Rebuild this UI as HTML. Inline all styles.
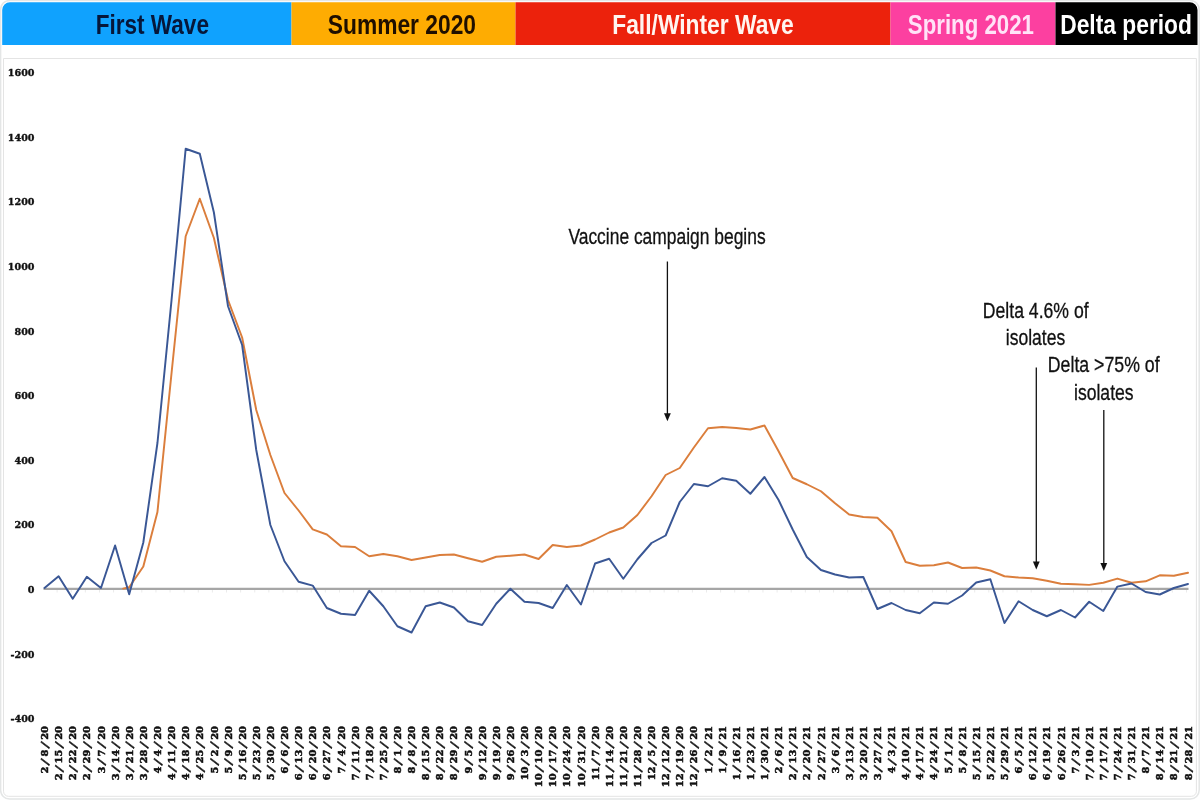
<!DOCTYPE html>
<html lang="en">
<head>
<meta charset="utf-8">
<title>Excess deaths by wave</title>
<style>
html,body{margin:0;padding:0;background:#fff;}
body{width:1200px;height:800px;overflow:hidden;position:relative;font-family:"Liberation Sans",sans-serif;}
svg{position:absolute;left:0;top:0;display:block;}
.bt{font-family:"Liberation Sans",sans-serif;font-weight:bold;font-size:28.5px;}
.an{font-family:"Liberation Sans",sans-serif;font-size:21.4px;fill:#111;stroke:#111;stroke-width:0.3px;}
.yl text{font-family:"DejaVu Serif","Liberation Serif",serif;font-weight:bold;font-size:9.6px;fill:#111;stroke:#111;stroke-width:0.35px;}
.xl text{font-family:"DejaVu Serif","Liberation Serif",serif;font-weight:bold;font-size:9.9px;fill:#111;stroke:#111;stroke-width:0.5px;}
.xl .sl{font-size:12px;}
</style>
</head>
<body>
<svg width="1200" height="800" viewBox="0 0 1200 800">
<!-- outer frame -->
<rect x="0.6" y="0.5" width="1198.6" height="798.6" rx="9" ry="9" fill="#fff" stroke="#e4e6e6" stroke-width="1.5"/>
<!-- banner -->
<clipPath id="bc"><path d="M2.2 45V10a7.8 7.8 0 0 1 7.8-7.8H1189.7a7.8 7.8 0 0 1 7.8 7.8V45Z"/></clipPath>
<g clip-path="url(#bc)">
<rect x="2" y="2" width="289.5" height="43" fill="#10a2fe"/>
<rect x="291.5" y="2" width="224" height="43" fill="#feac02"/>
<rect x="515.5" y="2" width="375" height="43" fill="#ec220c"/>
<rect x="890.5" y="2" width="165" height="43" fill="#fc40a0"/>
<rect x="1055.5" y="2" width="143" height="43" fill="#000"/>
</g>
<text class="bt" x="152.3" y="33.8" fill="#06173a" textLength="113.3" lengthAdjust="spacingAndGlyphs" text-anchor="middle">First Wave</text>
<text class="bt" x="401.9" y="33.8" fill="#1f0f00" textLength="148.3" lengthAdjust="spacingAndGlyphs" text-anchor="middle">Summer 2020</text>
<text class="bt" x="703.0" y="33.8" fill="#fff5f0" textLength="181.5" lengthAdjust="spacingAndGlyphs" text-anchor="middle">Fall/Winter Wave</text>
<text class="bt" x="970.9" y="33.8" fill="#ffe3f7" textLength="126.1" lengthAdjust="spacingAndGlyphs" text-anchor="middle">Spring 2021</text>
<text class="bt" x="1126.1" y="33.8" fill="#fff" textLength="131.8" lengthAdjust="spacingAndGlyphs" text-anchor="middle">Delta period</text>
<!-- chart frame -->
<path d="M3.5 58.5H1196.4V791.3a5 5 0 0 1 -5 5H8.5a5 5 0 0 1 -5 -5Z" fill="#fff" stroke="#e4e4e4" stroke-width="1"/>
<!-- axis -->
<path d="M57.12 590v2.5M71.23 590v2.5M85.35 590v2.5M99.47 590v2.5M113.59 590v2.5M127.70 590v2.5M141.82 590v2.5M155.94 590v2.5M170.05 590v2.5M184.17 590v2.5M198.29 590v2.5M212.40 590v2.5M226.52 590v2.5M240.64 590v2.5M254.75 590v2.5M268.87 590v2.5M282.99 590v2.5M297.11 590v2.5M311.22 590v2.5M325.34 590v2.5M339.46 590v2.5M353.57 590v2.5M367.69 590v2.5M381.81 590v2.5M395.93 590v2.5M410.04 590v2.5M424.16 590v2.5M438.28 590v2.5M452.39 590v2.5M466.51 590v2.5M480.63 590v2.5M494.74 590v2.5M508.86 590v2.5M522.98 590v2.5M537.10 590v2.5M551.21 590v2.5M565.33 590v2.5M579.45 590v2.5M593.56 590v2.5M607.68 590v2.5M621.80 590v2.5M635.91 590v2.5M650.03 590v2.5M664.15 590v2.5M678.26 590v2.5M692.38 590v2.5M706.50 590v2.5M720.62 590v2.5M734.73 590v2.5M748.85 590v2.5M762.97 590v2.5M777.08 590v2.5M791.20 590v2.5M805.32 590v2.5M819.44 590v2.5M833.55 590v2.5M847.67 590v2.5M861.79 590v2.5M875.90 590v2.5M890.02 590v2.5M904.14 590v2.5M918.25 590v2.5M932.37 590v2.5M946.49 590v2.5M960.61 590v2.5M974.72 590v2.5M988.84 590v2.5M1002.96 590v2.5M1017.07 590v2.5M1031.19 590v2.5M1045.31 590v2.5M1059.42 590v2.5M1073.54 590v2.5M1087.66 590v2.5M1101.78 590v2.5M1115.89 590v2.5M1130.01 590v2.5M1144.13 590v2.5M1158.24 590v2.5M1172.36 590v2.5M1186.48 590v2.5" stroke="#ebebeb" stroke-width="1" fill="none"/>
<path d="M43.5 588.9H1188.5" stroke="#a6a6a6" stroke-width="2.2" fill="none"/>
<g class="yl">
<text x="34.5" y="76.2" text-anchor="end">1600</text>
<text x="34.5" y="140.8" text-anchor="end">1400</text>
<text x="34.5" y="205.4" text-anchor="end">1200</text>
<text x="34.5" y="270.0" text-anchor="end">1000</text>
<text x="34.5" y="334.6" text-anchor="end">800</text>
<text x="34.5" y="399.2" text-anchor="end">600</text>
<text x="34.5" y="463.8" text-anchor="end">400</text>
<text x="34.5" y="528.4" text-anchor="end">200</text>
<text x="34.5" y="593.0" text-anchor="end">0</text>
<text x="34.5" y="657.6" text-anchor="end">-200</text>
<text x="34.5" y="722.2" text-anchor="end">-400</text>
</g>
<g class="xl">
<text transform="translate(48.10,726) rotate(-90)" text-anchor="end">2<tspan class="sl" dx="1.4" rotate="20">/</tspan><tspan dx="4.2" rotate="0">8</tspan><tspan class="sl" dx="1.4" rotate="20">/</tspan><tspan dx="4.2" rotate="0">20</tspan></text>
<text transform="translate(62.22,726) rotate(-90)" text-anchor="end">2<tspan class="sl" dx="1.4" rotate="20">/</tspan><tspan dx="4.2" rotate="0">15</tspan><tspan class="sl" dx="1.4" rotate="20">/</tspan><tspan dx="4.2" rotate="0">20</tspan></text>
<text transform="translate(76.33,726) rotate(-90)" text-anchor="end">2<tspan class="sl" dx="1.4" rotate="20">/</tspan><tspan dx="4.2" rotate="0">22</tspan><tspan class="sl" dx="1.4" rotate="20">/</tspan><tspan dx="4.2" rotate="0">20</tspan></text>
<text transform="translate(90.45,726) rotate(-90)" text-anchor="end">2<tspan class="sl" dx="1.4" rotate="20">/</tspan><tspan dx="4.2" rotate="0">29</tspan><tspan class="sl" dx="1.4" rotate="20">/</tspan><tspan dx="4.2" rotate="0">20</tspan></text>
<text transform="translate(104.57,726) rotate(-90)" text-anchor="end">3<tspan class="sl" dx="1.4" rotate="20">/</tspan><tspan dx="4.2" rotate="0">7</tspan><tspan class="sl" dx="1.4" rotate="20">/</tspan><tspan dx="4.2" rotate="0">20</tspan></text>
<text transform="translate(118.69,726) rotate(-90)" text-anchor="end">3<tspan class="sl" dx="1.4" rotate="20">/</tspan><tspan dx="4.2" rotate="0">14</tspan><tspan class="sl" dx="1.4" rotate="20">/</tspan><tspan dx="4.2" rotate="0">20</tspan></text>
<text transform="translate(132.80,726) rotate(-90)" text-anchor="end">3<tspan class="sl" dx="1.4" rotate="20">/</tspan><tspan dx="4.2" rotate="0">21</tspan><tspan class="sl" dx="1.4" rotate="20">/</tspan><tspan dx="4.2" rotate="0">20</tspan></text>
<text transform="translate(146.92,726) rotate(-90)" text-anchor="end">3<tspan class="sl" dx="1.4" rotate="20">/</tspan><tspan dx="4.2" rotate="0">28</tspan><tspan class="sl" dx="1.4" rotate="20">/</tspan><tspan dx="4.2" rotate="0">20</tspan></text>
<text transform="translate(161.04,726) rotate(-90)" text-anchor="end">4<tspan class="sl" dx="1.4" rotate="20">/</tspan><tspan dx="4.2" rotate="0">4</tspan><tspan class="sl" dx="1.4" rotate="20">/</tspan><tspan dx="4.2" rotate="0">20</tspan></text>
<text transform="translate(175.15,726) rotate(-90)" text-anchor="end">4<tspan class="sl" dx="1.4" rotate="20">/</tspan><tspan dx="4.2" rotate="0">11</tspan><tspan class="sl" dx="1.4" rotate="20">/</tspan><tspan dx="4.2" rotate="0">20</tspan></text>
<text transform="translate(189.27,726) rotate(-90)" text-anchor="end">4<tspan class="sl" dx="1.4" rotate="20">/</tspan><tspan dx="4.2" rotate="0">18</tspan><tspan class="sl" dx="1.4" rotate="20">/</tspan><tspan dx="4.2" rotate="0">20</tspan></text>
<text transform="translate(203.39,726) rotate(-90)" text-anchor="end">4<tspan class="sl" dx="1.4" rotate="20">/</tspan><tspan dx="4.2" rotate="0">25</tspan><tspan class="sl" dx="1.4" rotate="20">/</tspan><tspan dx="4.2" rotate="0">20</tspan></text>
<text transform="translate(217.50,726) rotate(-90)" text-anchor="end">5<tspan class="sl" dx="1.4" rotate="20">/</tspan><tspan dx="4.2" rotate="0">2</tspan><tspan class="sl" dx="1.4" rotate="20">/</tspan><tspan dx="4.2" rotate="0">20</tspan></text>
<text transform="translate(231.62,726) rotate(-90)" text-anchor="end">5<tspan class="sl" dx="1.4" rotate="20">/</tspan><tspan dx="4.2" rotate="0">9</tspan><tspan class="sl" dx="1.4" rotate="20">/</tspan><tspan dx="4.2" rotate="0">20</tspan></text>
<text transform="translate(245.74,726) rotate(-90)" text-anchor="end">5<tspan class="sl" dx="1.4" rotate="20">/</tspan><tspan dx="4.2" rotate="0">16</tspan><tspan class="sl" dx="1.4" rotate="20">/</tspan><tspan dx="4.2" rotate="0">20</tspan></text>
<text transform="translate(259.85,726) rotate(-90)" text-anchor="end">5<tspan class="sl" dx="1.4" rotate="20">/</tspan><tspan dx="4.2" rotate="0">23</tspan><tspan class="sl" dx="1.4" rotate="20">/</tspan><tspan dx="4.2" rotate="0">20</tspan></text>
<text transform="translate(273.97,726) rotate(-90)" text-anchor="end">5<tspan class="sl" dx="1.4" rotate="20">/</tspan><tspan dx="4.2" rotate="0">30</tspan><tspan class="sl" dx="1.4" rotate="20">/</tspan><tspan dx="4.2" rotate="0">20</tspan></text>
<text transform="translate(288.09,726) rotate(-90)" text-anchor="end">6<tspan class="sl" dx="1.4" rotate="20">/</tspan><tspan dx="4.2" rotate="0">6</tspan><tspan class="sl" dx="1.4" rotate="20">/</tspan><tspan dx="4.2" rotate="0">20</tspan></text>
<text transform="translate(302.21,726) rotate(-90)" text-anchor="end">6<tspan class="sl" dx="1.4" rotate="20">/</tspan><tspan dx="4.2" rotate="0">13</tspan><tspan class="sl" dx="1.4" rotate="20">/</tspan><tspan dx="4.2" rotate="0">20</tspan></text>
<text transform="translate(316.32,726) rotate(-90)" text-anchor="end">6<tspan class="sl" dx="1.4" rotate="20">/</tspan><tspan dx="4.2" rotate="0">20</tspan><tspan class="sl" dx="1.4" rotate="20">/</tspan><tspan dx="4.2" rotate="0">20</tspan></text>
<text transform="translate(330.44,726) rotate(-90)" text-anchor="end">6<tspan class="sl" dx="1.4" rotate="20">/</tspan><tspan dx="4.2" rotate="0">27</tspan><tspan class="sl" dx="1.4" rotate="20">/</tspan><tspan dx="4.2" rotate="0">20</tspan></text>
<text transform="translate(344.56,726) rotate(-90)" text-anchor="end">7<tspan class="sl" dx="1.4" rotate="20">/</tspan><tspan dx="4.2" rotate="0">4</tspan><tspan class="sl" dx="1.4" rotate="20">/</tspan><tspan dx="4.2" rotate="0">20</tspan></text>
<text transform="translate(358.67,726) rotate(-90)" text-anchor="end">7<tspan class="sl" dx="1.4" rotate="20">/</tspan><tspan dx="4.2" rotate="0">11</tspan><tspan class="sl" dx="1.4" rotate="20">/</tspan><tspan dx="4.2" rotate="0">20</tspan></text>
<text transform="translate(372.79,726) rotate(-90)" text-anchor="end">7<tspan class="sl" dx="1.4" rotate="20">/</tspan><tspan dx="4.2" rotate="0">18</tspan><tspan class="sl" dx="1.4" rotate="20">/</tspan><tspan dx="4.2" rotate="0">20</tspan></text>
<text transform="translate(386.91,726) rotate(-90)" text-anchor="end">7<tspan class="sl" dx="1.4" rotate="20">/</tspan><tspan dx="4.2" rotate="0">25</tspan><tspan class="sl" dx="1.4" rotate="20">/</tspan><tspan dx="4.2" rotate="0">20</tspan></text>
<text transform="translate(401.03,726) rotate(-90)" text-anchor="end">8<tspan class="sl" dx="1.4" rotate="20">/</tspan><tspan dx="4.2" rotate="0">1</tspan><tspan class="sl" dx="1.4" rotate="20">/</tspan><tspan dx="4.2" rotate="0">20</tspan></text>
<text transform="translate(415.14,726) rotate(-90)" text-anchor="end">8<tspan class="sl" dx="1.4" rotate="20">/</tspan><tspan dx="4.2" rotate="0">8</tspan><tspan class="sl" dx="1.4" rotate="20">/</tspan><tspan dx="4.2" rotate="0">20</tspan></text>
<text transform="translate(429.26,726) rotate(-90)" text-anchor="end">8<tspan class="sl" dx="1.4" rotate="20">/</tspan><tspan dx="4.2" rotate="0">15</tspan><tspan class="sl" dx="1.4" rotate="20">/</tspan><tspan dx="4.2" rotate="0">20</tspan></text>
<text transform="translate(443.38,726) rotate(-90)" text-anchor="end">8<tspan class="sl" dx="1.4" rotate="20">/</tspan><tspan dx="4.2" rotate="0">22</tspan><tspan class="sl" dx="1.4" rotate="20">/</tspan><tspan dx="4.2" rotate="0">20</tspan></text>
<text transform="translate(457.49,726) rotate(-90)" text-anchor="end">8<tspan class="sl" dx="1.4" rotate="20">/</tspan><tspan dx="4.2" rotate="0">29</tspan><tspan class="sl" dx="1.4" rotate="20">/</tspan><tspan dx="4.2" rotate="0">20</tspan></text>
<text transform="translate(471.61,726) rotate(-90)" text-anchor="end">9<tspan class="sl" dx="1.4" rotate="20">/</tspan><tspan dx="4.2" rotate="0">5</tspan><tspan class="sl" dx="1.4" rotate="20">/</tspan><tspan dx="4.2" rotate="0">20</tspan></text>
<text transform="translate(485.73,726) rotate(-90)" text-anchor="end">9<tspan class="sl" dx="1.4" rotate="20">/</tspan><tspan dx="4.2" rotate="0">12</tspan><tspan class="sl" dx="1.4" rotate="20">/</tspan><tspan dx="4.2" rotate="0">20</tspan></text>
<text transform="translate(499.84,726) rotate(-90)" text-anchor="end">9<tspan class="sl" dx="1.4" rotate="20">/</tspan><tspan dx="4.2" rotate="0">19</tspan><tspan class="sl" dx="1.4" rotate="20">/</tspan><tspan dx="4.2" rotate="0">20</tspan></text>
<text transform="translate(513.96,726) rotate(-90)" text-anchor="end">9<tspan class="sl" dx="1.4" rotate="20">/</tspan><tspan dx="4.2" rotate="0">26</tspan><tspan class="sl" dx="1.4" rotate="20">/</tspan><tspan dx="4.2" rotate="0">20</tspan></text>
<text transform="translate(528.08,726) rotate(-90)" text-anchor="end">10<tspan class="sl" dx="1.4" rotate="20">/</tspan><tspan dx="4.2" rotate="0">3</tspan><tspan class="sl" dx="1.4" rotate="20">/</tspan><tspan dx="4.2" rotate="0">20</tspan></text>
<text transform="translate(542.20,726) rotate(-90)" text-anchor="end">10<tspan class="sl" dx="1.4" rotate="20">/</tspan><tspan dx="4.2" rotate="0">10</tspan><tspan class="sl" dx="1.4" rotate="20">/</tspan><tspan dx="4.2" rotate="0">20</tspan></text>
<text transform="translate(556.31,726) rotate(-90)" text-anchor="end">10<tspan class="sl" dx="1.4" rotate="20">/</tspan><tspan dx="4.2" rotate="0">17</tspan><tspan class="sl" dx="1.4" rotate="20">/</tspan><tspan dx="4.2" rotate="0">20</tspan></text>
<text transform="translate(570.43,726) rotate(-90)" text-anchor="end">10<tspan class="sl" dx="1.4" rotate="20">/</tspan><tspan dx="4.2" rotate="0">24</tspan><tspan class="sl" dx="1.4" rotate="20">/</tspan><tspan dx="4.2" rotate="0">20</tspan></text>
<text transform="translate(584.55,726) rotate(-90)" text-anchor="end">10<tspan class="sl" dx="1.4" rotate="20">/</tspan><tspan dx="4.2" rotate="0">31</tspan><tspan class="sl" dx="1.4" rotate="20">/</tspan><tspan dx="4.2" rotate="0">20</tspan></text>
<text transform="translate(598.66,726) rotate(-90)" text-anchor="end">11<tspan class="sl" dx="1.4" rotate="20">/</tspan><tspan dx="4.2" rotate="0">7</tspan><tspan class="sl" dx="1.4" rotate="20">/</tspan><tspan dx="4.2" rotate="0">20</tspan></text>
<text transform="translate(612.78,726) rotate(-90)" text-anchor="end">11<tspan class="sl" dx="1.4" rotate="20">/</tspan><tspan dx="4.2" rotate="0">14</tspan><tspan class="sl" dx="1.4" rotate="20">/</tspan><tspan dx="4.2" rotate="0">20</tspan></text>
<text transform="translate(626.90,726) rotate(-90)" text-anchor="end">11<tspan class="sl" dx="1.4" rotate="20">/</tspan><tspan dx="4.2" rotate="0">21</tspan><tspan class="sl" dx="1.4" rotate="20">/</tspan><tspan dx="4.2" rotate="0">20</tspan></text>
<text transform="translate(641.01,726) rotate(-90)" text-anchor="end">11<tspan class="sl" dx="1.4" rotate="20">/</tspan><tspan dx="4.2" rotate="0">28</tspan><tspan class="sl" dx="1.4" rotate="20">/</tspan><tspan dx="4.2" rotate="0">20</tspan></text>
<text transform="translate(655.13,726) rotate(-90)" text-anchor="end">12<tspan class="sl" dx="1.4" rotate="20">/</tspan><tspan dx="4.2" rotate="0">5</tspan><tspan class="sl" dx="1.4" rotate="20">/</tspan><tspan dx="4.2" rotate="0">20</tspan></text>
<text transform="translate(669.25,726) rotate(-90)" text-anchor="end">12<tspan class="sl" dx="1.4" rotate="20">/</tspan><tspan dx="4.2" rotate="0">12</tspan><tspan class="sl" dx="1.4" rotate="20">/</tspan><tspan dx="4.2" rotate="0">20</tspan></text>
<text transform="translate(683.36,726) rotate(-90)" text-anchor="end">12<tspan class="sl" dx="1.4" rotate="20">/</tspan><tspan dx="4.2" rotate="0">19</tspan><tspan class="sl" dx="1.4" rotate="20">/</tspan><tspan dx="4.2" rotate="0">20</tspan></text>
<text transform="translate(697.48,726) rotate(-90)" text-anchor="end">12<tspan class="sl" dx="1.4" rotate="20">/</tspan><tspan dx="4.2" rotate="0">26</tspan><tspan class="sl" dx="1.4" rotate="20">/</tspan><tspan dx="4.2" rotate="0">20</tspan></text>
<text transform="translate(711.60,726) rotate(-90)" text-anchor="end">1<tspan class="sl" dx="1.4" rotate="20">/</tspan><tspan dx="4.2" rotate="0">2</tspan><tspan class="sl" dx="1.4" rotate="20">/</tspan><tspan dx="4.2" rotate="0">21</tspan></text>
<text transform="translate(725.72,726) rotate(-90)" text-anchor="end">1<tspan class="sl" dx="1.4" rotate="20">/</tspan><tspan dx="4.2" rotate="0">9</tspan><tspan class="sl" dx="1.4" rotate="20">/</tspan><tspan dx="4.2" rotate="0">21</tspan></text>
<text transform="translate(739.83,726) rotate(-90)" text-anchor="end">1<tspan class="sl" dx="1.4" rotate="20">/</tspan><tspan dx="4.2" rotate="0">16</tspan><tspan class="sl" dx="1.4" rotate="20">/</tspan><tspan dx="4.2" rotate="0">21</tspan></text>
<text transform="translate(753.95,726) rotate(-90)" text-anchor="end">1<tspan class="sl" dx="1.4" rotate="20">/</tspan><tspan dx="4.2" rotate="0">23</tspan><tspan class="sl" dx="1.4" rotate="20">/</tspan><tspan dx="4.2" rotate="0">21</tspan></text>
<text transform="translate(768.07,726) rotate(-90)" text-anchor="end">1<tspan class="sl" dx="1.4" rotate="20">/</tspan><tspan dx="4.2" rotate="0">30</tspan><tspan class="sl" dx="1.4" rotate="20">/</tspan><tspan dx="4.2" rotate="0">21</tspan></text>
<text transform="translate(782.18,726) rotate(-90)" text-anchor="end">2<tspan class="sl" dx="1.4" rotate="20">/</tspan><tspan dx="4.2" rotate="0">6</tspan><tspan class="sl" dx="1.4" rotate="20">/</tspan><tspan dx="4.2" rotate="0">21</tspan></text>
<text transform="translate(796.30,726) rotate(-90)" text-anchor="end">2<tspan class="sl" dx="1.4" rotate="20">/</tspan><tspan dx="4.2" rotate="0">13</tspan><tspan class="sl" dx="1.4" rotate="20">/</tspan><tspan dx="4.2" rotate="0">21</tspan></text>
<text transform="translate(810.42,726) rotate(-90)" text-anchor="end">2<tspan class="sl" dx="1.4" rotate="20">/</tspan><tspan dx="4.2" rotate="0">20</tspan><tspan class="sl" dx="1.4" rotate="20">/</tspan><tspan dx="4.2" rotate="0">21</tspan></text>
<text transform="translate(824.54,726) rotate(-90)" text-anchor="end">2<tspan class="sl" dx="1.4" rotate="20">/</tspan><tspan dx="4.2" rotate="0">27</tspan><tspan class="sl" dx="1.4" rotate="20">/</tspan><tspan dx="4.2" rotate="0">21</tspan></text>
<text transform="translate(838.65,726) rotate(-90)" text-anchor="end">3<tspan class="sl" dx="1.4" rotate="20">/</tspan><tspan dx="4.2" rotate="0">6</tspan><tspan class="sl" dx="1.4" rotate="20">/</tspan><tspan dx="4.2" rotate="0">21</tspan></text>
<text transform="translate(852.77,726) rotate(-90)" text-anchor="end">3<tspan class="sl" dx="1.4" rotate="20">/</tspan><tspan dx="4.2" rotate="0">13</tspan><tspan class="sl" dx="1.4" rotate="20">/</tspan><tspan dx="4.2" rotate="0">21</tspan></text>
<text transform="translate(866.89,726) rotate(-90)" text-anchor="end">3<tspan class="sl" dx="1.4" rotate="20">/</tspan><tspan dx="4.2" rotate="0">20</tspan><tspan class="sl" dx="1.4" rotate="20">/</tspan><tspan dx="4.2" rotate="0">21</tspan></text>
<text transform="translate(881.00,726) rotate(-90)" text-anchor="end">3<tspan class="sl" dx="1.4" rotate="20">/</tspan><tspan dx="4.2" rotate="0">27</tspan><tspan class="sl" dx="1.4" rotate="20">/</tspan><tspan dx="4.2" rotate="0">21</tspan></text>
<text transform="translate(895.12,726) rotate(-90)" text-anchor="end">4<tspan class="sl" dx="1.4" rotate="20">/</tspan><tspan dx="4.2" rotate="0">3</tspan><tspan class="sl" dx="1.4" rotate="20">/</tspan><tspan dx="4.2" rotate="0">21</tspan></text>
<text transform="translate(909.24,726) rotate(-90)" text-anchor="end">4<tspan class="sl" dx="1.4" rotate="20">/</tspan><tspan dx="4.2" rotate="0">10</tspan><tspan class="sl" dx="1.4" rotate="20">/</tspan><tspan dx="4.2" rotate="0">21</tspan></text>
<text transform="translate(923.35,726) rotate(-90)" text-anchor="end">4<tspan class="sl" dx="1.4" rotate="20">/</tspan><tspan dx="4.2" rotate="0">17</tspan><tspan class="sl" dx="1.4" rotate="20">/</tspan><tspan dx="4.2" rotate="0">21</tspan></text>
<text transform="translate(937.47,726) rotate(-90)" text-anchor="end">4<tspan class="sl" dx="1.4" rotate="20">/</tspan><tspan dx="4.2" rotate="0">24</tspan><tspan class="sl" dx="1.4" rotate="20">/</tspan><tspan dx="4.2" rotate="0">21</tspan></text>
<text transform="translate(951.59,726) rotate(-90)" text-anchor="end">5<tspan class="sl" dx="1.4" rotate="20">/</tspan><tspan dx="4.2" rotate="0">1</tspan><tspan class="sl" dx="1.4" rotate="20">/</tspan><tspan dx="4.2" rotate="0">21</tspan></text>
<text transform="translate(965.71,726) rotate(-90)" text-anchor="end">5<tspan class="sl" dx="1.4" rotate="20">/</tspan><tspan dx="4.2" rotate="0">8</tspan><tspan class="sl" dx="1.4" rotate="20">/</tspan><tspan dx="4.2" rotate="0">21</tspan></text>
<text transform="translate(979.82,726) rotate(-90)" text-anchor="end">5<tspan class="sl" dx="1.4" rotate="20">/</tspan><tspan dx="4.2" rotate="0">15</tspan><tspan class="sl" dx="1.4" rotate="20">/</tspan><tspan dx="4.2" rotate="0">21</tspan></text>
<text transform="translate(993.94,726) rotate(-90)" text-anchor="end">5<tspan class="sl" dx="1.4" rotate="20">/</tspan><tspan dx="4.2" rotate="0">22</tspan><tspan class="sl" dx="1.4" rotate="20">/</tspan><tspan dx="4.2" rotate="0">21</tspan></text>
<text transform="translate(1008.06,726) rotate(-90)" text-anchor="end">5<tspan class="sl" dx="1.4" rotate="20">/</tspan><tspan dx="4.2" rotate="0">29</tspan><tspan class="sl" dx="1.4" rotate="20">/</tspan><tspan dx="4.2" rotate="0">21</tspan></text>
<text transform="translate(1022.17,726) rotate(-90)" text-anchor="end">6<tspan class="sl" dx="1.4" rotate="20">/</tspan><tspan dx="4.2" rotate="0">5</tspan><tspan class="sl" dx="1.4" rotate="20">/</tspan><tspan dx="4.2" rotate="0">21</tspan></text>
<text transform="translate(1036.29,726) rotate(-90)" text-anchor="end">6<tspan class="sl" dx="1.4" rotate="20">/</tspan><tspan dx="4.2" rotate="0">12</tspan><tspan class="sl" dx="1.4" rotate="20">/</tspan><tspan dx="4.2" rotate="0">21</tspan></text>
<text transform="translate(1050.41,726) rotate(-90)" text-anchor="end">6<tspan class="sl" dx="1.4" rotate="20">/</tspan><tspan dx="4.2" rotate="0">19</tspan><tspan class="sl" dx="1.4" rotate="20">/</tspan><tspan dx="4.2" rotate="0">21</tspan></text>
<text transform="translate(1064.52,726) rotate(-90)" text-anchor="end">6<tspan class="sl" dx="1.4" rotate="20">/</tspan><tspan dx="4.2" rotate="0">26</tspan><tspan class="sl" dx="1.4" rotate="20">/</tspan><tspan dx="4.2" rotate="0">21</tspan></text>
<text transform="translate(1078.64,726) rotate(-90)" text-anchor="end">7<tspan class="sl" dx="1.4" rotate="20">/</tspan><tspan dx="4.2" rotate="0">3</tspan><tspan class="sl" dx="1.4" rotate="20">/</tspan><tspan dx="4.2" rotate="0">21</tspan></text>
<text transform="translate(1092.76,726) rotate(-90)" text-anchor="end">7<tspan class="sl" dx="1.4" rotate="20">/</tspan><tspan dx="4.2" rotate="0">10</tspan><tspan class="sl" dx="1.4" rotate="20">/</tspan><tspan dx="4.2" rotate="0">21</tspan></text>
<text transform="translate(1106.88,726) rotate(-90)" text-anchor="end">7<tspan class="sl" dx="1.4" rotate="20">/</tspan><tspan dx="4.2" rotate="0">17</tspan><tspan class="sl" dx="1.4" rotate="20">/</tspan><tspan dx="4.2" rotate="0">21</tspan></text>
<text transform="translate(1120.99,726) rotate(-90)" text-anchor="end">7<tspan class="sl" dx="1.4" rotate="20">/</tspan><tspan dx="4.2" rotate="0">24</tspan><tspan class="sl" dx="1.4" rotate="20">/</tspan><tspan dx="4.2" rotate="0">21</tspan></text>
<text transform="translate(1135.11,726) rotate(-90)" text-anchor="end">7<tspan class="sl" dx="1.4" rotate="20">/</tspan><tspan dx="4.2" rotate="0">31</tspan><tspan class="sl" dx="1.4" rotate="20">/</tspan><tspan dx="4.2" rotate="0">21</tspan></text>
<text transform="translate(1149.23,726) rotate(-90)" text-anchor="end">8<tspan class="sl" dx="1.4" rotate="20">/</tspan><tspan dx="4.2" rotate="0">7</tspan><tspan class="sl" dx="1.4" rotate="20">/</tspan><tspan dx="4.2" rotate="0">21</tspan></text>
<text transform="translate(1163.34,726) rotate(-90)" text-anchor="end">8<tspan class="sl" dx="1.4" rotate="20">/</tspan><tspan dx="4.2" rotate="0">14</tspan><tspan class="sl" dx="1.4" rotate="20">/</tspan><tspan dx="4.2" rotate="0">21</tspan></text>
<text transform="translate(1177.46,726) rotate(-90)" text-anchor="end">8<tspan class="sl" dx="1.4" rotate="20">/</tspan><tspan dx="4.2" rotate="0">21</tspan><tspan class="sl" dx="1.4" rotate="20">/</tspan><tspan dx="4.2" rotate="0">21</tspan></text>
<text transform="translate(1191.58,726) rotate(-90)" text-anchor="end">8<tspan class="sl" dx="1.4" rotate="20">/</tspan><tspan dx="4.2" rotate="0">28</tspan><tspan class="sl" dx="1.4" rotate="20">/</tspan><tspan dx="4.2" rotate="0">21</tspan></text>
</g>
<!-- series -->
<polyline points="123.20,588.6 129.2,587.2 143.32,566.5 157.44,512 171.55,373 185.67,236.25 199.79,198.75 213.9,238 228.02,300 242.14,337.5 256.25,410 270.37,455 284.49,493 298.61,510.5 312.72,529.4 326.84,534.5 340.96,546.25 355.07,547 369.19,556.25 383.31,554 397.43,556.25 411.54,560 425.66,557.5 439.78,555 453.89,554.5 468.01,558.25 482.13,561.75 496.24,556.75 510.36,555.75 524.48,554.5 538.6,559 552.71,545 566.83,547 580.95,545.5 595.06,539.5 609.18,532.5 623.3,527.5 637.41,515 651.53,496.25 665.65,475 679.76,468 693.88,447.5 708.0,428.25 722.12,427 736.23,428 750.35,429.5 764.47,425.5 778.58,451.25 792.7,478 806.82,484.25 820.94,491.25 835.05,503.25 849.17,514.5 863.29,517 877.4,517.75 891.52,531.25 905.64,562 919.75,565.75 933.87,565.25 947.99,562.5 962.11,568 976.22,567.5 990.34,570.5 1004.46,576.25 1018.57,577.5 1032.69,578.25 1046.81,580.75 1060.92,583.75 1075.04,584.25 1089.16,584.85 1103.28,582.75 1117.39,578.6 1131.51,582.75 1145.63,581.3 1159.74,575.3 1173.86,575.8 1187.98,572.8" fill="none" stroke="#db7e3c" stroke-width="1.95" stroke-linejoin="round" stroke-linecap="round"/>
<polyline points="44.5,588 58.62,576.25 72.73,598.75 86.85,576.75 100.97,588 115.09,545.5 129.2,594.25 143.32,542.5 157.44,443 171.55,300 185.67,148.75 199.79,153.75 213.9,212.5 228.02,306.25 242.14,345 256.25,450 270.37,525 284.49,561.25 298.61,581.75 312.72,585.6 326.84,608 340.96,613.75 355.07,615 369.19,590.75 383.31,606.25 397.43,626.25 411.54,632.5 425.66,606.25 439.78,602.5 453.89,607.5 468.01,621.25 482.13,625 496.24,603.75 510.36,588.75 524.48,601.75 538.6,603 552.71,608 566.83,585 580.95,604.5 595.06,563.5 609.18,558.75 623.3,578.75 637.41,559.25 651.53,543 665.65,535.5 679.76,502 693.88,484 708.0,486.25 722.12,478.25 736.23,480.75 750.35,493.75 764.47,477 778.58,500 792.7,529.5 806.82,557 820.94,570 835.05,574.5 849.17,577.5 863.29,577 877.4,609 891.52,603 905.64,610 919.75,613.25 933.87,602.5 947.99,603.75 962.11,595.5 976.22,582.5 990.34,579.25 1004.46,623 1018.57,601.25 1032.69,610 1046.81,616.25 1060.92,610 1075.04,617.5 1089.16,601.75 1103.28,611 1117.39,586.6 1131.51,583.5 1145.63,592 1159.74,594.5 1173.86,588 1187.98,584" fill="none" stroke="#3a5795" stroke-width="1.95" stroke-linejoin="round" stroke-linecap="round"/>
<!-- annotations -->
<text class="an" x="667.0" y="243.5" textLength="197.2" lengthAdjust="spacingAndGlyphs" text-anchor="middle">Vaccine campaign begins</text>
<text class="an" x="1035.7" y="317.6" textLength="105.8" lengthAdjust="spacingAndGlyphs" text-anchor="middle">Delta 4.6% of</text>
<text class="an" x="1035.5" y="345" textLength="59.4" lengthAdjust="spacingAndGlyphs" text-anchor="middle">isolates</text>
<text class="an" x="1103.7" y="372.4" textLength="111.8" lengthAdjust="spacingAndGlyphs" text-anchor="middle">Delta &gt;75% of</text>
<text class="an" x="1103.8" y="400" textLength="59.6" lengthAdjust="spacingAndGlyphs" text-anchor="middle">isolates</text>
<path d="M667.4 261.5V414.3" stroke="#111" stroke-width="1.3" fill="none"/><path d="M664.0 413.3H670.8L667.4 421.3Z" fill="#111"/>
<path d="M1036.3 367.6V562.5" stroke="#111" stroke-width="1.3" fill="none"/><path d="M1032.8999999999999 561.5H1039.7L1036.3 569.5Z" fill="#111"/>
<path d="M1103.8 410V564" stroke="#111" stroke-width="1.3" fill="none"/><path d="M1100.3999999999999 563H1107.2L1103.8 571Z" fill="#111"/>
</svg>
</body>
</html>
